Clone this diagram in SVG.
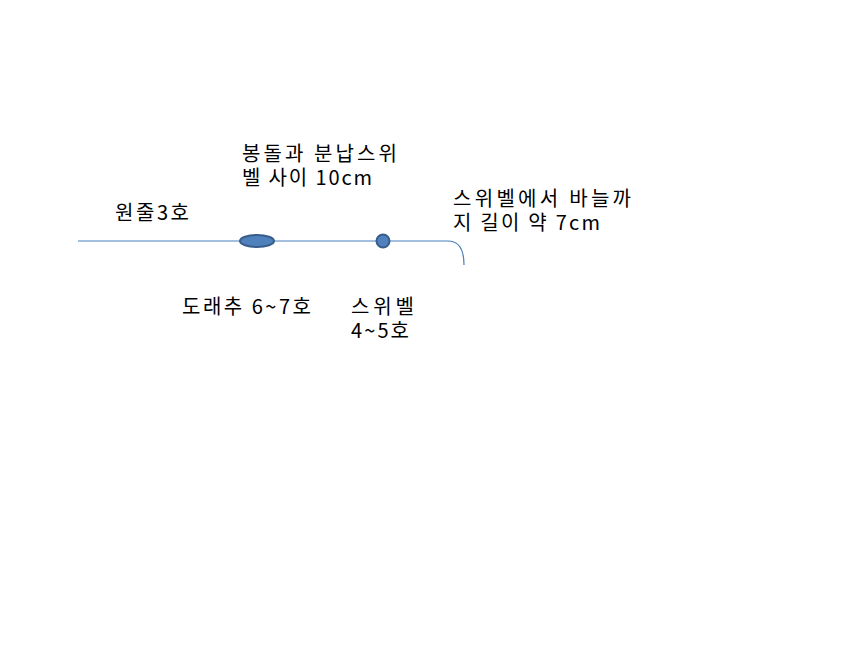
<svg xmlns="http://www.w3.org/2000/svg" width="860" height="645" viewBox="0 0 860 645">
<style>
text{font-family:"Noto Sans CJK KR","Noto Sans",sans-serif;font-size:20px;fill:#000}
.line{fill:none;stroke:#4a7ebb;stroke-width:1.2}
.weight{fill:#4f81bd;stroke:#385d8a;stroke-width:2}
</style>
<rect width="860" height="645" fill="#fff"/>
<g id="connectors">
<path class="line" d="M78 241 H448 Q464 241 464 265"/>
</g>
<g id="sinker">
<ellipse class="weight" cx="257" cy="241" rx="17" ry="6"/>
</g>
<g id="swivel">
<circle class="weight" cx="383" cy="241" r="6.5"/>
</g>
<g id="labels">
<text><tspan x="242" y="161" textLength="155" lengthAdjust="spacing">봉돌과 분납스위</tspan><tspan x="242" y="185" textLength="130" lengthAdjust="spacing">벨 사이 10cm</tspan></text>
<text x="115" y="220" textLength="74" lengthAdjust="spacing">원줄3호</text>
<text><tspan x="453" y="206" textLength="178" lengthAdjust="spacing">스위벨에서 바늘까</tspan><tspan x="453" y="230" textLength="147" lengthAdjust="spacing">지 길이 약 7cm</tspan></text>
<text x="182" y="314" textLength="129" lengthAdjust="spacing">도래추 6~7호</text>
<text><tspan x="351" y="314" textLength="63" lengthAdjust="spacing">스위벨</tspan><tspan x="351" y="338" textLength="58" lengthAdjust="spacing">4~5호</tspan></text>
</g>
</svg>
